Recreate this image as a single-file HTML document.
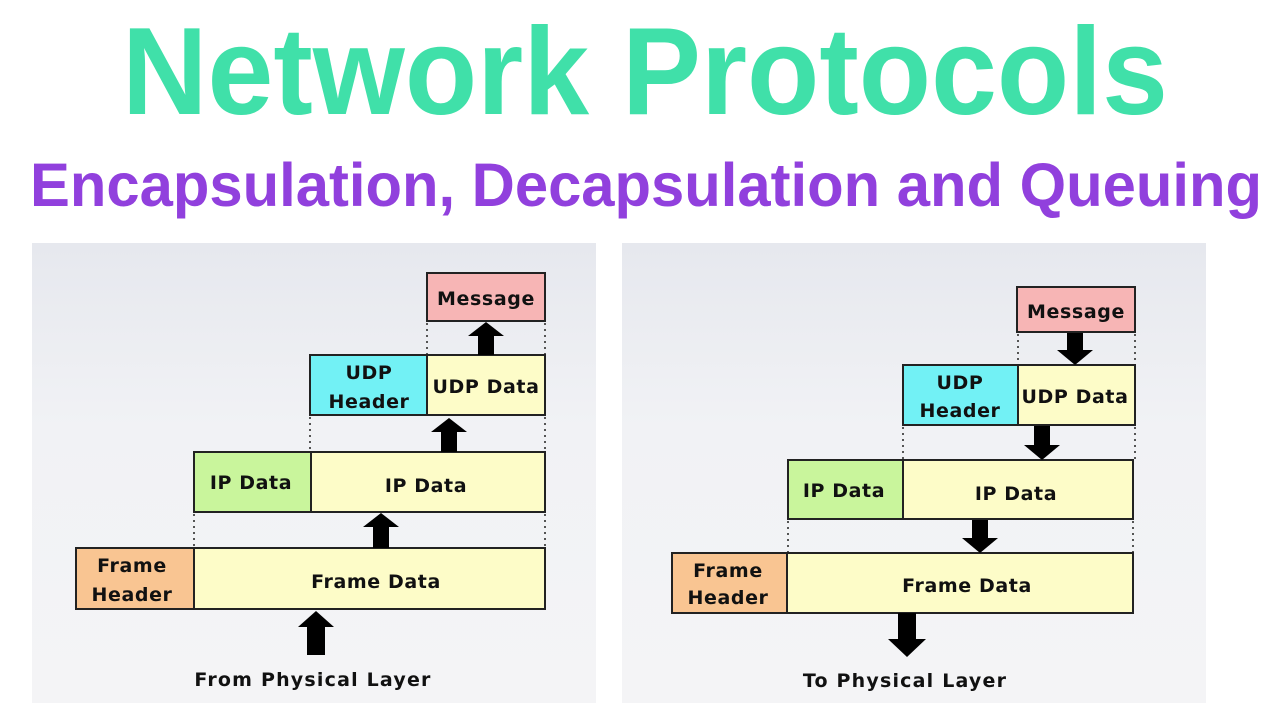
<!DOCTYPE html>
<html><head><meta charset="utf-8"><style>
html,body{margin:0;padding:0;background:#fff;}
svg{display:block;}
.t{font-family:"DejaVu Sans","Liberation Sans",sans-serif;font-weight:bold;font-size:19px;letter-spacing:0.6px;fill:#111;text-anchor:middle;}
.l{letter-spacing:1.2px;}
.b{stroke:#222;stroke-width:2;}
.d{stroke:#555;stroke-width:2;stroke-dasharray:2 4;}
</style></head><body>
<svg width="1280" height="720" viewBox="0 0 1280 720" xmlns="http://www.w3.org/2000/svg">
<defs>
<linearGradient id="g" x1="0" y1="0" x2="0" y2="1">
<stop offset="0" stop-color="#e6e8ee"/><stop offset="0.4" stop-color="#f1f2f5"/><stop offset="1" stop-color="#f4f4f6"/>
</linearGradient>
</defs>
<rect width="1280" height="720" fill="#fff"/>
<text x="122" y="114" font-family="Liberation Sans, sans-serif" font-weight="bold" font-size="124" fill="#40e0a9" textLength="1046" lengthAdjust="spacingAndGlyphs">Network Protocols</text>
<text x="30" y="206" font-family="Liberation Sans, sans-serif" font-weight="bold" font-size="61" fill="#9140dd" textLength="1232" lengthAdjust="spacingAndGlyphs">Encapsulation, Decapsulation and Queuing</text>

<!-- LEFT PANEL -->
<rect x="32" y="243" width="564" height="460" fill="url(#g)"/>
<line class="d" x1="427" y1="323" x2="427" y2="355"/><line class="d" x1="545" y1="323" x2="545" y2="355"/>
<line class="d" x1="310" y1="417" x2="310" y2="452"/><line class="d" x1="545" y1="417" x2="545" y2="452"/>
<line class="d" x1="194" y1="514" x2="194" y2="548"/><line class="d" x1="545" y1="514" x2="545" y2="548"/>
<rect class="b" x="427" y="273" width="118" height="48" fill="#f7b5b5"/>
<text class="t" x="486" y="305">Message</text>
<rect class="b" x="310" y="355" width="117" height="60" fill="#72f1f5"/>
<rect class="b" x="427" y="355" width="118" height="60" fill="#fdfcc8"/>
<text class="t" x="369" y="379">UDP</text><text class="t" x="369" y="408">Header</text>
<text class="t" x="486" y="393">UDP Data</text>
<rect class="b" x="194" y="452" width="117" height="60" fill="#c9f59c"/>
<rect class="b" x="311" y="452" width="234" height="60" fill="#fdfcc8"/>
<text class="t" x="251" y="489">IP Data</text><text class="t" x="426" y="492">IP Data</text>
<rect class="b" x="76" y="548" width="118" height="61" fill="#f9c592"/>
<rect class="b" x="194" y="548" width="351" height="61" fill="#fdfcc8"/>
<text class="t" x="132" y="572">Frame</text><text class="t" x="132" y="601">Header</text>
<text class="t" x="376" y="588">Frame Data</text>
<polygon fill="#000" points="486,322 504,336 494,336 494,355 478,355 478,336 468,336"/>
<polygon fill="#000" points="449,418 467,432 457,432 457,452 441,452 441,432 431,432"/>
<polygon fill="#000" points="381,513 399,527 389,527 389,548 373,548 373,527 363,527"/>
<polygon fill="#000" points="316,611 334,627 325,627 325,655 307,655 307,627 298,627"/>
<text class="t l" x="313" y="686">From Physical Layer</text>

<!-- RIGHT PANEL -->
<rect x="622" y="243" width="584" height="460" fill="url(#g)"/>
<line class="d" x1="1018" y1="334" x2="1018" y2="365"/><line class="d" x1="1135" y1="334" x2="1135" y2="365"/>
<line class="d" x1="903" y1="427" x2="903" y2="460"/><line class="d" x1="1135" y1="427" x2="1135" y2="460"/>
<line class="d" x1="788" y1="521" x2="788" y2="553"/><line class="d" x1="1133" y1="521" x2="1133" y2="553"/>
<rect class="b" x="1017" y="287" width="118" height="45" fill="#f7b5b5"/>
<text class="t" x="1076" y="318">Message</text>
<rect class="b" x="903" y="365" width="115" height="60" fill="#72f1f5"/>
<rect class="b" x="1018" y="365" width="117" height="60" fill="#fdfcc8"/>
<text class="t" x="960" y="389">UDP</text><text class="t" x="960" y="417">Header</text>
<text class="t" x="1075" y="403">UDP Data</text>
<rect class="b" x="788" y="460" width="115" height="59" fill="#c9f59c"/>
<rect class="b" x="903" y="460" width="230" height="59" fill="#fdfcc8"/>
<text class="t" x="844" y="497">IP Data</text><text class="t" x="1016" y="500">IP Data</text>
<rect class="b" x="672" y="553" width="115" height="60" fill="#f9c592"/>
<rect class="b" x="787" y="553" width="346" height="60" fill="#fdfcc8"/>
<text class="t" x="728" y="577">Frame</text><text class="t" x="728" y="604">Header</text>
<text class="t" x="967" y="592">Frame Data</text>
<polygon fill="#000" points="1067,333 1083,333 1083,350 1093,350 1075,365 1057,350 1067,350"/>
<polygon fill="#000" points="1034,426 1050,426 1050,445 1060,445 1042,460 1024,445 1034,445"/>
<polygon fill="#000" points="972,520 988,520 988,538 998,538 980,553 962,538 972,538"/>
<polygon fill="#000" points="898,613 916,613 916,639 926,639 907,657 888,639 898,639"/>
<text class="t l" x="905" y="687">To Physical Layer</text>
</svg>
</body></html>
